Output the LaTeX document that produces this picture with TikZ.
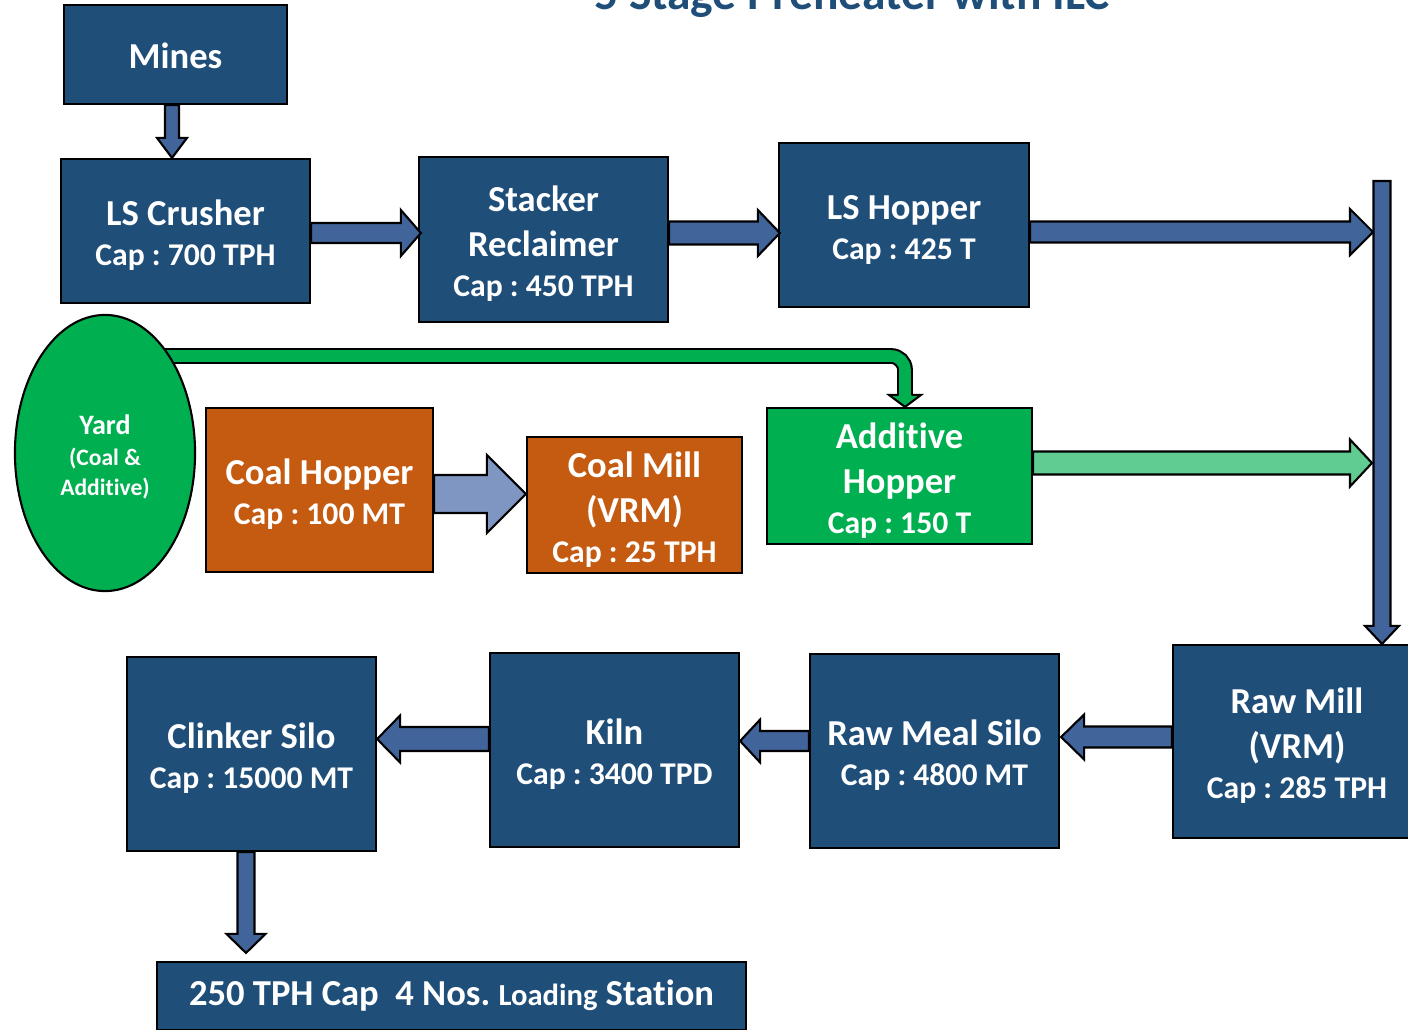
\documentclass[tikz,border=0pt]{standalone}
\usepackage{fontspec}
\setmainfont{Carlito}[Ligatures=NoCommon]
\usepackage{xcolor}
\usepackage{tikz}
\usetikzlibrary{positioning, calc, shapes.geometric, backgrounds}
\definecolor{boxblue}{HTML}{1F4E79}
\definecolor{arrowblue}{HTML}{41649A}
\definecolor{coalorange}{HTML}{C55A11}
\definecolor{yardgreen}{HTML}{00B050}
\definecolor{lightgreen}{HTML}{60CC91}
\definecolor{lightblue}{HTML}{7F96C3}
\frenchspacing
\tikzset{
	x=0.01cm, y=-0.01cm, % one unit is one pixel of the sheet, y going down
	box/.style={draw=black, line width=0.6pt, fill=boxblue, text=white, align=center, inner sep=0pt, font=\bfseries\fontsize{10.4}{12.8}\selectfont}, % process box
	coalbox/.style={box, fill=coalorange}, % coal line
	greenbox/.style={box, fill=yardgreen}, % additive line
	flow/.style={draw=black, line width=0.6pt, fill=arrowblue, line join=miter}, % block arrows
}
\newcommand{\topstrut}{\rule{0pt}{9.9pt}}
\newcommand{\capline}[1]{{\fontsize{9}{11}\selectfont #1}}
% block arrow: [style]{from}{to}{shaft half width}{head half width}{head length}
\newcommand{\blockarrow}[6][]{%
	\coordinate (ba) at (#2);
	\coordinate (bb) at (#3);
	\coordinate (bh) at ($(bb)!#6*0.01cm!(ba)$);
	\draw[flow,#1] ($(ba)!#4*0.01cm!90:(bb)$) -- ($(bh)!#4*0.01cm!90:(bb)$) -- ($(bh)!#5*0.01cm!90:(bb)$) -- (bb) -- ($(bh)!#5*0.01cm!-90:(bb)$) -- ($(bh)!#4*0.01cm!-90:(bb)$) -- ($(ba)!#4*0.01cm!-90:(bb)$) -- cycle;
}

\begin{document}
\begin{tikzpicture}
	\useasboundingbox (0,0) rectangle (1408,1030);
	
	% Title
	\node[anchor=base, text=boxblue, font=\bfseries\fontsize{13.5}{16}\selectfont] (title) at (852,9) {5 Stage Preheater with ILC};
	
	% Define nodes
	\node[box, minimum width=2.23cm, minimum height=0.99cm] (mines) at (175.5,54.5) {\rule{0pt}{8.3pt}Mines};
	\node[box, minimum width=2.49cm, minimum height=1.44cm] (crusher) at (185.5,231) {\topstrut LS Crusher\\[-1.4pt]\capline{Cap : 700 TPH}};
	\node[box, minimum width=2.49cm, minimum height=1.65cm] (stacker) at (543.5,239.5) {\topstrut Stacker\\Reclaimer\\[-1.4pt]\capline{Cap : 450 TPH}};
	\node[box, minimum width=2.50cm, minimum height=1.64cm] (lshopper) at (904,225) {\topstrut LS Hopper\\[-1.4pt]\capline{Cap : 425 T}};
	\node[ellipse, draw, line width=0.6pt, fill=yardgreen, text=white, minimum width=1.8cm, minimum height=2.76cm, inner sep=0pt, align=center, font=\bfseries\fontsize{6.7}{8.3}\selectfont] (yard) at (105,453) {{\fontsize{8}{8.3}\selectfont\rule{0pt}{7.8pt}Yard}\\[0.6pt](Coal \&\\Additive)};
	\node[coalbox, minimum width=2.27cm, minimum height=1.64cm] (coalhopper) at (319.5,490) {\topstrut Coal Hopper\\[-1.4pt]\capline{Cap : 100 MT}};
	\node[coalbox, minimum width=2.15cm, minimum height=1.36cm] (coalmill) at (634.5,505) {\topstrut Coal Mill\\(VRM)\\[-1.4pt]\capline{Cap : 25 TPH}};
	\node[greenbox, minimum width=2.65cm, minimum height=1.36cm] (additive) at (899.5,476) {\topstrut Additive\\Hopper\\[-1.4pt]\capline{Cap : 150 T}};
	\node[box, minimum width=2.48cm, minimum height=1.93cm] (rawmill) at (1297,741.5) {\topstrut Raw Mill\\(VRM)\\[-1.4pt]\capline{Cap : 285 TPH}};
	\node[box, minimum width=2.49cm, minimum height=1.94cm] (rawmeal) at (934.5,751) {\topstrut Raw Meal Silo\\[-1.4pt]\capline{Cap : 4800 MT}};
	\node[box, minimum width=2.49cm, minimum height=1.94cm] (kiln) at (614.5,750) {\topstrut Kiln\\[-1.4pt]\capline{Cap : 3400 TPD}};
	\node[box, minimum width=2.49cm, minimum height=1.94cm] (clinker) at (251.5,754) {\topstrut Clinker Silo\\[-1.4pt]\capline{Cap : 15000 MT}};
	\node[box, minimum width=5.89cm, minimum height=0.68cm] (loading) at (451.5,996) {250 TPH Cap~~4 Nos. {\fontsize{8.7}{10}\selectfont Loading} Station};
	
	% Yard to additive hopper
	\coordinate (gs) at ($(yard.center)+(40,-97)$);
	\coordinate (gt) at ($(additive.north)+(5.5,0)$);
	\begin{scope}[on background layer]
		\draw[line width=4.5pt, rounded corners=0.14cm] (gs) -- (gs -| gt) -- ($(gt)+(0,-11)$);
		\draw[yardgreen, line width=3.3pt, rounded corners=0.14cm] (gs) -- (gs -| gt) -- ($(gt)+(0,-11)$);
		\fill[yardgreen] ($(gt)+(-16,-12)$) -- (gt) -- ($(gt)+(16,-12)$) -- cycle;
		\draw[line width=0.6pt] ($(gt)+(-6.5,-12)$) -- ($(gt)+(-16,-12)$) -- (gt) -- ($(gt)+(16,-12)$) -- ($(gt)+(6.5,-12)$);
	\end{scope}
	
	% Arrows
	\coordinate (bartop) at (1382,181);
	\blockarrow{$(mines.south)+(-3.5,0)$}{ba |- crusher.north}{7}{15}{20}
	\blockarrow{$(crusher.east)+(0,2)$}{$(ba -| stacker.west)+(3,0)$}{10}{23}{20}
	\blockarrow{$(stacker.east)+(0,-6.5)$}{$(ba -| lshopper.west)+(2,0)$}{11.5}{23}{22}
	\blockarrow{$(lshopper.east)+(0,7)$}{$(ba -| bartop)+(-9,0)$}{10.5}{23}{23}
	\blockarrow[fill=lightblue]{$(coalhopper.east)+(0,4)$}{ba -| coalmill.west}{19}{39}{39}
	\blockarrow[fill=lightgreen]{$(additive.east)+(0,-13)$}{$(ba -| bartop)+(-10,0)$}{11.5}{23.5}{22}
	\blockarrow{bartop}{bartop |- rawmill.north}{8.5}{17}{18}
	\blockarrow{$(rawmill.west)+(0,-4.5)$}{$(ba -| rawmeal.east)+(1,0)$}{10.5}{22.5}{23}
	\blockarrow{$(rawmeal.west)+(0,-10)$}{ba -| kiln.east}{10}{21.5}{20}
	\blockarrow{$(kiln.west)+(0,-11)$}{ba -| clinker.east}{12}{23.5}{23}
	\blockarrow{$(clinker.south)+(-5.5,0)$}{$(ba |- loading.north)+(0,-8)$}{8.5}{19.5}{19}
	
\end{tikzpicture}
\end{document}
